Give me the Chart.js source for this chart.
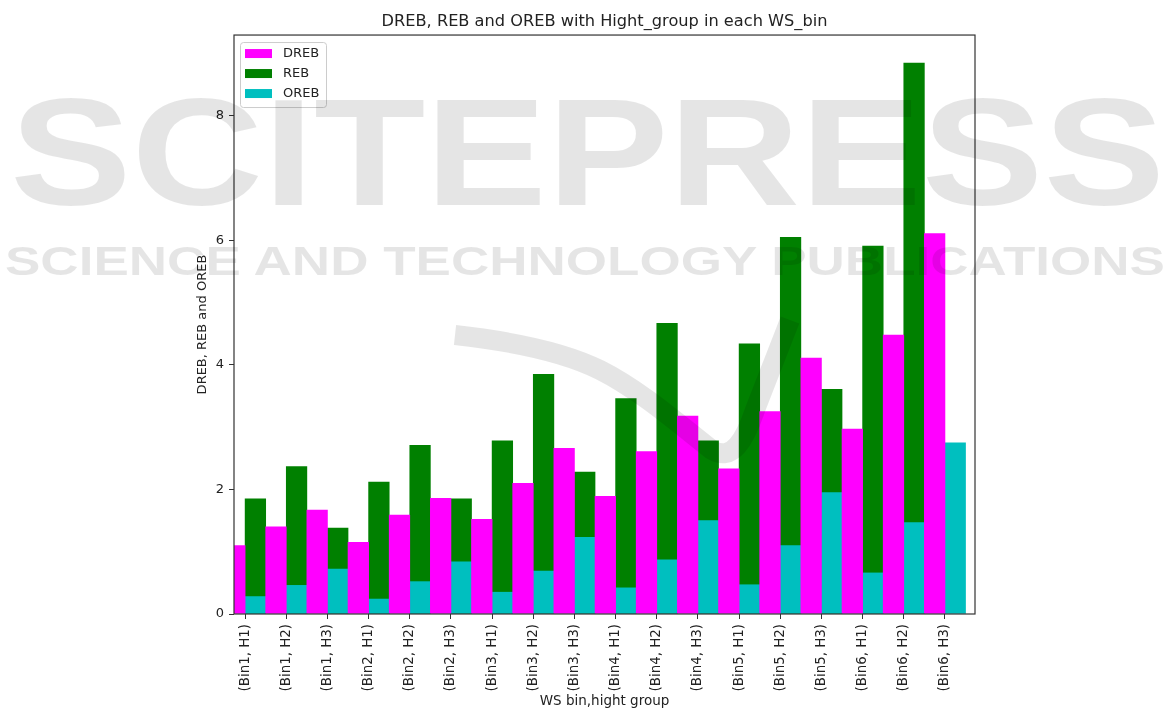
<!DOCTYPE html>
<html>
<head>
<meta charset="utf-8">
<script src="https://cdn.jsdelivr.net/npm/chart.js@4/dist/chart.umd.min.js"></script>
<style>
  html, body { margin: 0; padding: 0; background: #fff; }
  #wrap { position: relative; width: 1174px; height: 711px; }
  #chart { position: absolute; left: 0; top: 0; }
  #mark { position: absolute; left: 0; top: 0; pointer-events: none; }
</style>
</head>
<body>
<div id="wrap">
  <canvas id="chart" width="1174" height="711"></canvas>
  <svg id="mark" width="1174" height="711">
    <text x="10" y="205" textLength="1155" lengthAdjust="spacingAndGlyphs" font-family="Liberation Sans" font-weight="bold" font-size="152" fill="rgba(0,0,0,0.1)">SCITEPRESS</text>
    <text x="5" y="275" textLength="1160" lengthAdjust="spacingAndGlyphs" font-family="Liberation Sans" font-weight="bold" font-size="40" fill="rgba(0,0,0,0.1)">SCIENCE AND TECHNOLOGY PUBLICATIONS</text>
    <path d="M 455 335 C 500 340, 560 350, 600 370 C 640 390, 680 425, 712 450 C 732 462, 745 440, 755 410 L 790 320" fill="none" stroke="rgba(0,0,0,0.1)" stroke-width="20"/>
  </svg>
</div>
<script>
var categories = ["(Bin1, H1)", "(Bin1, H2)", "(Bin1, H3)", "(Bin2, H1)", "(Bin2, H2)", "(Bin2, H3)",
                  "(Bin3, H1)", "(Bin3, H2)", "(Bin3, H3)", "(Bin4, H1)", "(Bin4, H2)", "(Bin4, H3)",
                  "(Bin5, H1)", "(Bin5, H2)", "(Bin5, H3)", "(Bin6, H1)", "(Bin6, H2)", "(Bin6, H3)"];
var dreb = [1.10, 1.40, 1.67, 1.15, 1.59, 1.86, 1.52, 2.10, 2.66, 1.89, 2.61, 3.18, 2.33, 3.25, 4.11, 2.97, 4.48, 6.11];
var reb  = [1.85, 2.37, 1.38, 2.12, 2.71, 1.85, 2.78, 3.85, 2.28, 3.46, 4.67, 2.78, 4.34, 6.05, 3.61, 5.91, 8.85, null];
var oreb = [0.28, 0.46, 0.72, 0.24, 0.52, 0.84, 0.35, 0.69, 1.23, 0.42, 0.87, 1.50, 0.47, 1.10, 1.95, 0.66, 1.47, 2.75];
var yTicks = [0, 2, 4, 6, 8];

Chart.defaults.font.family = "DejaVu Sans";
Chart.defaults.color = "#222";

function points(vals) {
    return vals.map(function(v, i) { return {x: i, y: v}; });
}

// axes box (all four spines)
var frame = {
    id: "frame",
    afterDatasetsDraw: function(chart) {
        var a = chart.chartArea;
        var ctx = chart.ctx;
        ctx.save();
        ctx.strokeStyle = "#333";
        ctx.lineWidth = 1.2;
        ctx.strokeRect(a.left, a.top, a.right - a.left, a.bottom - a.top);
        ctx.restore();
    }
};

// matplotlib style legend in the upper left corner
var legendBox = {
    id: "legendBox",
    afterDraw: function(chart) {
        var a = chart.chartArea;
        var ctx = chart.ctx;
        ctx.save();
        ctx.fillStyle = "rgba(255,255,255,0.8)";
        ctx.strokeStyle = "#cccccc";
        ctx.lineWidth = 1;
        ctx.beginPath();
        ctx.roundRect(a.left + 6.5, a.top + 7.5, 86, 65, 3);
        ctx.fill();
        ctx.stroke();
        ctx.font = '13px "DejaVu Sans"';
        ctx.textBaseline = "middle";
        chart.data.datasets.forEach(function(ds, i) {
            var y = a.top + 18 + i * 20;
            ctx.fillStyle = ds.backgroundColor;
            ctx.fillRect(a.left + 11, y - 4, 27, 9);
            ctx.fillStyle = "#222";
            ctx.fillText(ds.label, a.left + 49, y + 0.5);
        });
        ctx.restore();
    }
};

var chart = new Chart(document.getElementById("chart"), {
    type: "bar",
    data: {
        datasets: [
            {label: "DREB", data: points(dreb), backgroundColor: "#ff00ff", stack: "a", order: 0},
            {label: "REB", data: points(reb), backgroundColor: "#008000", stack: "b", order: 2},
            {label: "OREB", data: points(oreb), backgroundColor: "#00bfbf", stack: "b", order: 1}
        ]
    },
    options: {
        responsive: false,
        animation: false,
        layout: {padding: {left: 195, right: 199, top: 0, bottom: 0}},
        datasets: {bar: {categoryPercentage: 1, barPercentage: 1, clip: 0, borderWidth: 0}},
        plugins: {
            legend: {display: false},
            tooltip: {enabled: false},
            title: {
                display: true,
                text: "DREB, REB and OREB with Hight_group in each WS_bin",
                fullSize: false,
                font: {size: 16.2, weight: "normal"},
                color: "#222",
                padding: {top: 12, bottom: 3.6}
            }
        },
        scales: {
            x: {
                type: "linear",
                offset: false,
                min: -0.27,
                max: 17.73,
                afterBuildTicks: function(axis) {
                    axis.ticks = categories.map(function(c, i) { return {value: i}; });
                },
                afterFit: function(axis) { axis.height = 97; },
                ticks: {
                    autoSkip: false,
                    maxRotation: 90,
                    minRotation: 90,
                    padding: 5,
                    font: {size: 13.4},
                    callback: function(v) { return categories[v]; }
                },
                grid: {offset: false, drawOnChartArea: false, drawTicks: true, tickLength: 5, color: "#333"},
                border: {display: false},
                title: {display: true, text: "WS bin,hight group", font: {size: 13.5}, padding: {top: 0, bottom: 1}}
            },
            y: {
                stacked: false,
                min: 0,
                max: 9.3,
                afterBuildTicks: function(axis) {
                    axis.ticks = yTicks.map(function(v) { return {value: v}; });
                },
                afterFit: function(axis) { axis.width = 39; },
                ticks: {padding: 5, font: {size: 13}},
                grid: {drawOnChartArea: false, drawTicks: true, tickLength: 5, color: "#333"},
                border: {display: false},
                title: {display: true, text: "DREB, REB and OREB", font: {size: 13}, padding: {top: 0, bottom: 0}}
            }
        }
    },
    plugins: [frame, legendBox]
});
</script>
</body>
</html>
